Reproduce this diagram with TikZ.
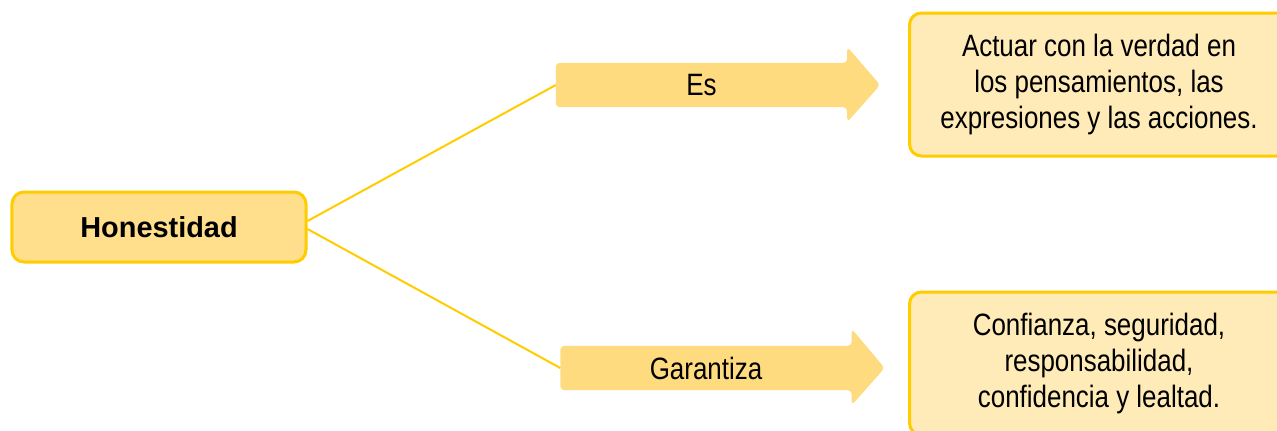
\documentclass[tikz,border=0pt]{standalone}
\usepackage{fontspec}
\setmainfont{Liberation Sans}
\newfontfamily\condfont[FakeStretch=0.84]{Liberation Sans}
\usetikzlibrary{backgrounds}
\definecolor{bord}{HTML}{FFCC00}
\definecolor{boxfill}{HTML}{FFDF8C}
\definecolor{arrfill}{HTML}{FFDB80}
\definecolor{notefill}{HTML}{FFEBB8}
\tikzset{
  mainbox/.style={draw=bord, line width=3bp, fill=boxfill, rounded corners=12bp,
    minimum width=294bp, minimum height=70bp, inner sep=0pt,
    font=\bfseries\fontsize{29}{34}\selectfont},
  notebox/.style={draw=bord, line width=3bp, fill=notefill, rounded corners=12bp,
    minimum width=379bp, minimum height=143bp, inner sep=0pt, align=center,
    font=\condfont\fontsize{31}{36.5}\selectfont},
  arrlabel/.style={minimum width=291bp, minimum height=44bp, inner sep=0pt,
    font=\condfont\fontsize{31}{36}\selectfont},
  arrbody/.style={fill=arrfill, rounded corners=4bp},
  conn/.style={draw=bord, line width=2bp}
}
\begin{document}
\begin{tikzpicture}[x=1bp,y=-1bp]
\useasboundingbox (0,0) rectangle (1277,430);
\node[mainbox] (hon) at (159,227) {Honestidad};
\node[arrlabel] (es) at (701.5,85) {Es};
\node[arrlabel] (gar) at (706,368) {Garantiza};
\node[notebox] (n1) at (1099,84.5) {Actuar con la verdad en\\los pensamientos, las\\expresiones y las acciones.};
\node[notebox] (n2) at (1099,363.5) {Confianza, seguridad,\\responsabilidad,\\confidencia y lealtad.};
\begin{scope}[on background layer]
\fill[arrbody] (es.south west) -- (es.north west) -- (es.north east)
  -- ([yshift=16bp]es.north east) -- ([xshift=33bp]es.east)
  -- ([yshift=-15bp]es.south east) -- (es.south east) -- cycle;
\fill[arrbody] (gar.south west) -- (gar.north west) -- (gar.north east)
  -- ([yshift=17bp]gar.north east) -- ([xshift=33bp]gar.east)
  -- ([yshift=-15bp]gar.south east) -- (gar.south east) -- cycle;
\end{scope}
\draw[conn] ([yshift=6bp]hon.east) -- (es.west);
\draw[conn] ([yshift=-2bp]hon.east) -- (gar.west);
\end{tikzpicture}
\end{document}
